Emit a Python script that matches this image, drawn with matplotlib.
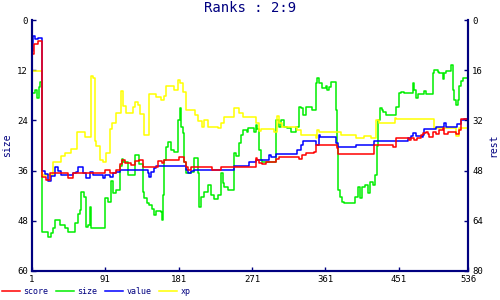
import matplotlib
matplotlib.use('Agg')
import matplotlib.pyplot as plt

# x positions where each step starts, and the value held until the next one
size_x = [1, 5, 7, 9, 11, 13, 21, 24, 27, 29, 35, 41, 45, 54, 57, 60, 61, 65, 67, 70,
          72, 74, 91, 94, 98, 100, 104, 109, 111, 113, 119, 127, 132, 137, 139, 142, 145,
          148, 151, 153, 159, 161, 162, 163, 165, 168, 172, 175, 180, 182, 184, 186, 188,
          190, 196, 200, 205, 206, 208, 212, 217, 221, 224, 229, 233, 235, 237, 241, 249,
          251, 255, 258, 260, 265, 266, 273, 276, 277, 280, 282, 283, 300, 301, 304, 307,
          310, 314, 319, 325, 329, 331, 334, 337, 345, 349, 351, 353, 357, 362, 363, 365,
          368, 374, 375, 377, 379, 381, 384, 397, 401, 403, 406, 409, 413, 416, 419, 422,
          424, 426, 428, 431, 432, 435, 448, 451, 454, 457, 468, 470, 472, 475, 482, 485,
          493, 494, 499, 500, 505, 507, 509, 515, 518, 519, 521, 524, 525, 527, 530, 536]
size_y = [17.5, 16.7, 18.6, 16.0, 14.8, 50.7, 51.9, 51.0, 49.7, 47.8, 49.0, 49.7, 50.7,
          48.5, 46.5, 45.5, 41.1, 42.3, 49.5, 49.0, 44.7, 49.7, 42.6, 43.5, 38.5, 41.4,
          40.6, 35.0, 33.2, 33.9, 37.1, 32.3, 34.5, 41.1, 42.6, 43.7, 44.2, 45.3, 46.6,
          45.7, 45.9, 47.8, 41.8, 33.5, 30.4, 29.2, 31.1, 31.6, 23.9, 21.0, 25.5, 27.0,
          34.0, 36.6, 36.3, 33.0, 36.6, 44.7, 42.3, 41.1, 39.4, 41.8, 42.8, 41.8, 36.6,
          39.0, 40.0, 40.6, 31.8, 32.5, 29.5, 27.5, 26.3, 26.8, 25.8, 26.8, 25.0, 26.0,
          31.0, 33.5, 34.0, 33.0, 24.0, 25.5, 23.9, 25.6, 25.8, 26.8, 25.6, 20.8, 21.0,
          22.7, 20.8, 21.5, 15.1, 13.9, 15.1, 16.3, 15.8, 16.7, 16.0, 14.8, 21.5, 30.0,
          40.6, 42.3, 43.5, 43.7, 42.3, 40.0, 42.5, 40.0, 39.5, 41.4, 38.7, 39.4, 37.0,
          30.0, 23.9, 21.0, 21.5, 22.0, 22.7, 20.8, 17.5, 17.2, 17.5, 15.1, 16.7, 18.6,
          17.7, 17.0, 17.7, 12.7, 12.0, 12.4, 12.7, 14.0, 12.7, 12.2, 10.8, 16.7, 19.0,
          20.3, 19.0, 15.8, 14.5, 13.9, 13.9]

score_x = [1, 4, 8, 13, 18, 23, 45, 51, 91, 97, 104, 109, 112, 115, 122, 127, 132, 137,
           156, 160, 163, 181, 187, 190, 192, 196, 222, 233, 276, 277, 280, 283, 288, 301,
           304, 329, 332, 337, 347, 350, 375, 377, 421, 444, 448, 463, 466, 470, 474, 478,
           481, 484, 487, 488, 493, 497, 500, 505, 507, 511, 521, 525, 527, 536]
score_y = [10.9, 7.7, 6.7, 50.0, 51.1, 48.8, 50.4, 48.8, 47.7, 48.8, 47.7, 46.0, 44.7,
           45.6, 46.3, 45.1, 44.7, 46.7, 45.1, 45.6, 44.7, 43.6, 45.3, 46.7, 47.9, 46.7,
           47.9, 46.7, 44.0, 44.7, 45.6, 46.0, 45.2, 44.3, 43.7, 44.3, 43.1, 42.4, 42.1,
           39.9, 40.8, 42.7, 39.9, 40.5, 37.6, 38.3, 37.6, 38.3, 37.6, 36.7, 36.0, 35.7,
           36.4, 37.3, 35.7, 36.4, 35.1, 34.4, 36.4, 35.7, 36.4, 35.1, 31.6, 31.6]

value_x = [1, 2, 5, 8, 13, 17, 21, 24, 29, 33, 37, 51, 55, 58, 64, 67, 72, 76, 88, 91,
           97, 100, 104, 109, 143, 145, 147, 151, 153, 190, 192, 196, 200, 249, 267, 276,
           292, 294, 301, 326, 331, 334, 349, 353, 355, 374, 377, 398, 421, 462, 466, 469,
           472, 479, 481, 482, 497, 507, 509, 523, 527, 531, 536]
value_y = [10.0, 5.1, 6.0, 5.7, 48.0, 49.1, 51.3, 49.7, 46.9, 48.0, 49.5, 48.8, 48.4,
           46.9, 48.8, 50.4, 48.5, 49.5, 50.4, 49.5, 50.1, 48.8, 48.4, 47.9, 48.8, 50.0,
           48.4, 47.2, 46.5, 47.9, 48.8, 48.0, 47.9, 46.5, 45.3, 44.7, 43.1, 43.7, 42.7,
           41.3, 39.9, 38.5, 39.9, 36.7, 37.3, 39.3, 40.5, 39.9, 38.5, 37.6, 37.1, 36.0,
           37.1, 37.3, 36.7, 34.8, 34.1, 32.9, 34.1, 33.1, 32.0, 31.6, 31.6]

xp_x = [1, 13, 27, 36, 42, 49, 56, 66, 73, 76, 78, 80, 85, 88, 92, 97, 99, 104, 110, 113,
        116, 125, 128, 131, 133, 138, 145, 153, 159, 163, 165, 175, 180, 183, 186, 190,
        201, 205, 210, 212, 217, 229, 233, 237, 249, 255, 260, 276, 279, 282, 298, 302,
        304, 308, 326, 331, 350, 351, 353, 380, 398, 408, 417, 423, 427, 446, 448, 494,
        521, 525, 536]
xp_y = [16.3, 49.5, 45.3, 43.3, 42.4, 41.1, 35.7, 37.3, 17.7, 18.5, 38.7, 40.3, 44.7,
        45.3, 42.4, 34.7, 32.8, 29.6, 22.7, 27.5, 29.6, 27.7, 26.1, 27.1, 30.0, 36.7,
        23.6, 24.4, 25.5, 24.3, 21.1, 22.3, 19.1, 20.1, 22.9, 28.7, 30.3, 32.1, 34.1,
        31.9, 34.1, 34.4, 32.8, 30.9, 28.0, 29.6, 30.9, 32.7, 35.3, 34.8, 35.7, 30.7,
        32.8, 34.1, 35.1, 36.7, 37.6, 35.1, 35.7, 36.7, 37.6, 36.9, 37.6, 31.9, 32.8,
        31.3, 31.6, 34.4, 37.1, 34.4, 34.4]

x_ticks = [1, 91, 181, 271, 361, 451, 536]
left_ticks = [0, 12, 24, 36, 48, 60]
right_ticks = [0, 16, 32, 48, 64, 80]

navy = '#000080'
mono = 'DejaVu Sans Mono'

fig = plt.figure(figsize=(5, 3), dpi=100)
ax = fig.add_axes([0.064, 0.097, 0.872, 0.836])
ax2 = ax.twinx()

lw = 1.1
l_xp, = ax2.plot(xp_x, xp_y, drawstyle='steps-post', color='#ffff00', lw=lw, label='xp')
l_size, = ax.plot(size_x, size_y, drawstyle='steps-post', color='#00ee00', lw=lw, label='size')
l_value, = ax2.plot(value_x, value_y, drawstyle='steps-post', color='#0000ff', lw=lw, label='value')
l_score, = ax2.plot(score_x, score_y, drawstyle='steps-post', color='#ff0000', lw=lw, label='score')
ax.set_zorder(ax2.get_zorder() - 1)
ax2.patch.set_visible(False)

ax.set_xlim(1, 536)
ax.set_ylim(60, 0)
ax2.set_ylim(80, 0)
ax.set_xticks(x_ticks)
ax.set_yticks(left_ticks)
ax2.set_yticks(right_ticks)

for a in (ax, ax2):
    a.spines['top'].set_visible(False)
    for s in ('left', 'right', 'bottom'):
        a.spines[s].set_color(navy)
        a.spines[s].set_linewidth(1.5)
    a.tick_params(direction='in', length=3, width=1, color=navy, labelsize=6.5, pad=3)
    for lab in a.get_xticklabels() + a.get_yticklabels():
        lab.set_family(mono)

ax.set_ylabel('size', color=navy, fontsize=7, family=mono, labelpad=4)
ax2.set_ylabel('rest', color=navy, fontsize=7, family=mono, labelpad=4)
fig.suptitle('Ranks : 2:9', color=navy, fontsize=10, family=mono, y=0.995)

fig.legend(handles=[l_score, l_size, l_value, l_xp], loc='lower left',
           bbox_to_anchor=(-0.012, -0.01), ncol=4, frameon=False, handlelength=2.2,
           handletextpad=0.4, columnspacing=0.9, prop={'family': mono, 'size': 6},
           labelcolor=navy)

fig.savefig('out.png', dpi=100)
